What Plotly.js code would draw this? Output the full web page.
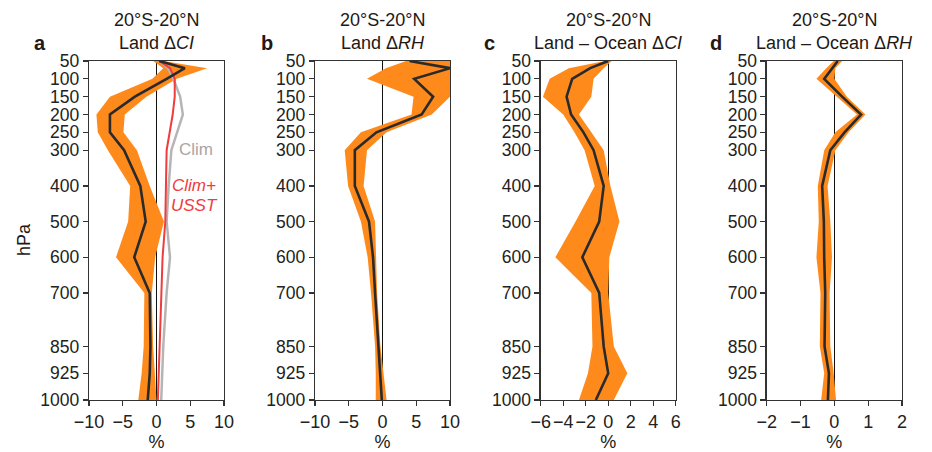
<!DOCTYPE html>
<html>
<head>
<meta charset="utf-8">
<script src="https://cdn.plot.ly/plotly-3.0.1.min.js"></script>
<style>html,body{margin:0;padding:0;background:#fff;}#chart{width:932px;height:452px;}</style>
</head>
<body>
<div id="chart"></div>
<script>
// Pressure levels (hPa)
const levels = [50,70,100,150,200,250,300,400,500,600,700,850,925,1000];
const yTicks = [50,100,150,200,250,300,400,500,600,700,850,925,1000];

// Panel a: Land ΔCI (%)
const aMean = [0.4,4.2,1.5,-3.2,-6.9,-6.9,-4.8,-2.4,-1.6,-3.3,-1.0,-0.9,-1.0,-1.3];
const aLow  = [-0.5,1.0,-0.6,-6.9,-8.9,-8.7,-7.2,-3.9,-4.2,-6.0,-1.8,-1.9,-2.2,-2.7];
const aHigh = [1.0,7.5,3.0,-1.5,-4.7,-4.9,-2.9,-1.0,1.1,-0.2,-0.7,-0.5,-0.3,0.0];
const aClim = [0.4,1.7,2.5,3.5,3.9,3.0,2.2,1.8,1.5,2.0,1.5,1.0,0.8,0.7];
const aClimUSST = [0.4,2.0,2.7,2.7,2.4,1.9,1.5,1.4,1.3,0.9,0.75,0.5,0.4,0.2];

// Panel b: Land ΔRH (%)
const bMean = [4.0,10.0,4.7,7.5,5.8,-0.9,-4.1,-4.1,-2.0,-1.4,-1.1,-0.6,-0.4,-0.1];
const bLow  = [3.5,0.5,-2.3,4.6,4.3,-3.2,-5.6,-5.1,-3.2,-2.2,-1.7,-1.1,-1.0,-1.0];
const bHigh = [10,10,10,10,7.3,0.6,-2.3,-2.8,-1.1,-0.9,-0.8,-0.3,0.1,0.6];

// Panel c: Land – Ocean ΔCI (%)
const cMean = [0.0,-1.6,-3.2,-3.7,-3.3,-2.2,-1.3,-0.4,-0.8,-2.3,-0.8,-0.4,0.0,-1.1];
const cLow  = [-0.3,-3.5,-5.2,-5.8,-4.0,-3.0,-2.1,-1.2,-2.9,-4.7,-1.5,-1.4,-1.8,-2.6];
const cHigh = [0.3,-0.4,-1.3,-1.5,-2.6,-1.5,-0.4,0.2,1.0,0.1,0.0,0.5,1.7,0.5];

// Panel d: Land – Ocean ΔRH (%)
const dMean = [0.1,-0.07,-0.3,0.23,0.79,0.3,-0.12,-0.36,-0.31,-0.3,-0.27,-0.29,-0.16,-0.19];
const dLow  = [-0.02,-0.24,-0.53,0.08,0.67,0.03,-0.3,-0.49,-0.46,-0.53,-0.41,-0.43,-0.3,-0.39];
const dHigh = [0.23,0.03,0.0,0.37,0.92,0.42,0.03,-0.2,-0.12,-0.07,-0.14,-0.12,-0.02,0.05];

const titleLine1 = "20°S-20°N";
const titleLine2 = ["Land Δ<i>CI</i>","Land Δ<i>RH</i>","Land – Ocean Δ<i>CI</i>","Land – Ocean Δ<i>RH</i>"];
const panelLetters = ["a","b","c","d"];

const W = 932, H = 452;
const FONT = "Liberation Sans, Arial, Helvetica, sans-serif";
const ORANGE = "#ff8a1c";
const DARK = "#2a2a2a";
const TXT = "#231815";

const panels = [
  {mean:aMean, lo:aLow, hi:aHigh, range:[-10,10], dtick:5, px:[89,224]},
  {mean:bMean, lo:bLow, hi:bHigh, range:[-10,10], dtick:5, px:[315,450]},
  {mean:cMean, lo:cLow, hi:cHigh, range:[-6,6], dtick:2, px:[540.7,675.7]},
  {mean:dMean, lo:dLow, hi:dHigh, range:[-2,2], dtick:1, px:[766.7,902]}
];
const yTopPx = 61, yBotPx = 400;
const yDomain = [1 - yBotPx/H, 1 - yTopPx/H];

const traces = [];
const layout = {
  width: W, height: H,
  margin: {l:0, r:0, t:0, b:0},
  paper_bgcolor: "#fff", plot_bgcolor: "#fff",
  showlegend: false,
  font: {family: FONT, size: 17, color: TXT},
  annotations: []
};

panels.forEach((p, i) => {
  const n = i === 0 ? "" : String(i+1);
  const xa = "x" + n, ya = "y" + n;
  traces.push({
    x: p.lo.concat(p.hi.slice().reverse()),
    y: levels.concat(levels.slice().reverse()),
    xaxis: xa, yaxis: ya, type: "scatter", mode: "lines",
    fill: "toself", fillcolor: ORANGE, line: {width: 0, color: ORANGE},
    hoverinfo: "skip"
  });
  if (i === 0) {
    traces.push({x: aClim, y: levels, xaxis: xa, yaxis: ya, type: "scatter", mode: "lines",
      line: {color: "#b8b4b4", width: 2.5}});
    traces.push({x: aClimUSST, y: levels, xaxis: xa, yaxis: ya, type: "scatter", mode: "lines",
      line: {color: "#f03c3c", width: 2}});
  }
  traces.push({x: p.mean, y: levels, xaxis: xa, yaxis: ya, type: "scatter", mode: "lines",
    line: {color: DARK, width: 2.6}});

  layout["xaxis" + n] = {
    domain: [p.px[0]/W, p.px[1]/W], anchor: ya, range: p.range, dtick: p.dtick, tick0: 0,
    tickangle: 0,
    showgrid: false, zeroline: true, zerolinecolor: "#111", zerolinewidth: 1,
    showline: true, linecolor: "#333", linewidth: 1.3, mirror: true,
    ticks: "outside", ticklen: 5, tickcolor: "#333", tickwidth: 1.3,
    tickfont: {family: FONT, size: 18, color: "#222"},
    title: {text: "%", font: {family: FONT, size: 18, color: TXT}, standoff: 8},
    fixedrange: true
  };
  layout["yaxis" + n] = {
    domain: yDomain, anchor: xa, range: [1000, 50], tickvals: yTicks,
    ticktext: yTicks.map(String),
    showgrid: false, zeroline: false,
    showline: true, linecolor: "#333", linewidth: 1.3, mirror: true,
    ticks: "outside", ticklen: 5, tickcolor: "#333", tickwidth: 1.3,
    tickfont: {family: FONT, size: 17.5, color: "#222"},
    fixedrange: true
  };

  const cx = (p.px[0] + p.px[1]) / 2 / W;
  layout.annotations.push({xref:"paper", yref:"paper", x: cx, y: 1 - 20/H, text: titleLine1,
    showarrow:false, xanchor:"center", yanchor:"middle", font:{family:FONT, size:18, color:TXT}});
  layout.annotations.push({xref:"paper", yref:"paper", x: cx, y: 1 - 43/H, text: titleLine2[i],
    showarrow:false, xanchor:"center", yanchor:"middle", font:{family:FONT, size:18, color:TXT}});
});

const letterX = [40, 267, 490, 716];
panelLetters.forEach((l, i) => {
  layout.annotations.push({xref:"paper", yref:"paper", x: letterX[i]/W, y: 1 - 43/H, text: "<b>" + l + "</b>",
    showarrow:false, xanchor:"center", yanchor:"middle", font:{family:FONT, size:20, color:TXT}});
});

layout.annotations.push({xref:"paper", yref:"paper", x: 24/W, y: 1 - 240/H, text: "hPa", textangle: -90,
  showarrow:false, xanchor:"center", yanchor:"middle", font:{family:FONT, size:18, color:TXT}});
layout.annotations.push({xref:"paper", yref:"paper", x: 196/W, y: 1 - 150/H, text: "Clim",
  showarrow:false, xanchor:"center", yanchor:"middle", font:{family:FONT, size:17, color:"#aaa5a5"}});
layout.annotations.push({xref:"paper", yref:"paper", x: 194/W, y: 1 - 185/H, text: "<i>Clim+</i>",
  showarrow:false, xanchor:"center", yanchor:"middle", font:{family:FONT, size:17, color:"#f03c3c"}});
layout.annotations.push({xref:"paper", yref:"paper", x: 194/W, y: 1 - 206/H, text: "<i>USST</i>",
  showarrow:false, xanchor:"center", yanchor:"middle", font:{family:FONT, size:17, color:"#f03c3c"}});

Plotly.newPlot("chart", traces, layout, {staticPlot: true, displayModeBar: false});
</script>
</body>
</html>
